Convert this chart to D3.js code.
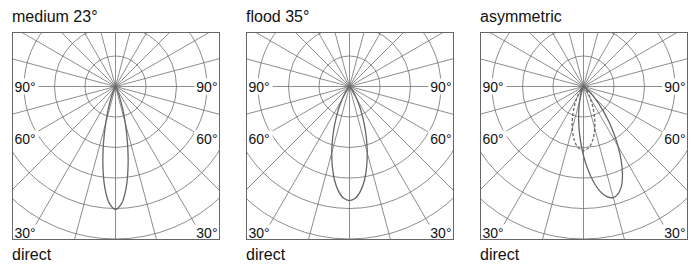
<!DOCTYPE html>
<html>
<head>
<meta charset="utf-8">
<script src="https://cdn.jsdelivr.net/npm/d3@7"></script>
<style>
  body { margin: 0; background: #fff; }
  text { font-family: "Liberation Sans", Arial, sans-serif; fill: #111; }
</style>
</head>
<body>
<div id="chart"></div>
<script>
// chart texts
var titles = ["medium 23°", "flood 35°", "asymmetric"];
var footers = ["direct", "direct", "direct"];
var sideLabels = ["90°", "60°", "30°"];

// polar grid: rings (relative intensity units) and spokes (degrees)
var ringValues = [1, 2, 3, 4, 5, 6];
var spokeAngles = [0, 15, 30, 45, 60, 75, 90, 105, 120, 135, 150, 165,
                   180, 195, 210, 225, 240, 255, 270, 285, 300, 315, 330, 345];

// light distribution curves, angle from nadir (deg, + to the right) and intensity
var mediumAngles = [0, 3, 6, 9, 12, 15, 18, 21, 24, 27, 30];
var mediumValues = [4.03, 3.84, 3.34, 2.64, 1.89, 1.24, 0.74, 0.40, 0.20, 0.09, 0.03];

var floodAngles = [0, 3, 6, 9, 12, 15, 18, 21, 24, 27, 30, 33, 36, 39, 42];
var floodValues = [3.74, 3.67, 3.45, 3.12, 2.70, 2.25, 1.80, 1.38, 1.01, 0.72, 0.49, 0.32, 0.20, 0.12, 0.07];

var asymAngles = [-27, -24, -21, -18, -15, -12, -9, -6, -3, 0, 3, 6, 9, 12, 15,
                  18, 21, 24, 27, 30, 33, 36, 39, 42, 45, 48, 51, 54, 57];
var asymValues = [0.07, 0.12, 0.20, 0.32, 0.49, 0.72, 1.02, 1.39, 1.81, 2.27, 2.72, 3.14, 3.48, 3.69, 3.77,
                  3.69, 3.48, 3.14, 2.72, 2.27, 1.81, 1.39, 1.02, 0.72, 0.49, 0.32, 0.20, 0.12, 0.07];

var asymDashAngles = [0, 5, 10, 15, 20, 25, 30, 35, 40, 45];
var asymDashValues = [2.10, 2.01, 1.77, 1.42, 1.05, 0.71, 0.44, 0.25, 0.13, 0.06];

// turn a half curve (symmetric about nadir) into a closed list of points
function mirrored(angles, values) {
    var pts = [];
    for (var i = angles.length - 1; i > 0; i--) pts.push([-angles[i], values[i]]);
    for (var j = 0; j < angles.length; j++) pts.push([angles[j], values[j]]);
    pts.push([angles[angles.length - 1] + 20, 0]);
    pts.push([-angles[angles.length - 1] - 20, 0]);
    return pts;
}
function asIs(angles, values) {
    var pts = angles.map(function (a, i) { return [a, values[i]]; });
    pts.push([angles[angles.length - 1] + 15, 0]);
    pts.push([angles[0] - 15, 0]);
    return pts;
}

var panels = [
    { curves: [{ pts: mirrored(mediumAngles, mediumValues), dash: null }] },
    { curves: [{ pts: mirrored(floodAngles, floodValues), dash: null }] },
    { curves: [{ pts: asIs(asymAngles, asymValues), dash: null },
               { pts: mirrored(asymDashAngles, asymDashValues), dash: "3,2" }] }
];

// layout
var W = 698, H = 264;
var box = 207, boxTop = 32.5;
var panelLeft = [12.5, 246.5, 480.5];
var cx = 103, cy = 54;

var r = d3.scaleLinear().domain([0, 1]).range([0, 30.5]);

var svg = d3.select("#chart").append("svg")
    .attr("width", W).attr("height", H);

// nadir angle (deg) -> d3 radial angle (0 = up, clockwise)
function rad(a) { return Math.PI - a * Math.PI / 180; }

panels.forEach(function (p, k) {
    var g = svg.append("g")
        .attr("transform", "translate(" + panelLeft[k] + "," + boxTop + ")");

    g.append("clipPath").attr("id", "clip" + k)
        .append("rect").attr("width", box).attr("height", box);

    var grid = g.append("g").attr("clip-path", "url(#clip" + k + ")")
        .append("g").attr("transform", "translate(" + cx + "," + cy + ")");

    grid.selectAll("circle.ring")
        .data(ringValues)
        .enter().append("circle")
        .attr("class", "ring")
        .attr("r", function (d) { return r(d); })
        .attr("fill", "none")
        .attr("stroke", "#707070")
        .attr("stroke-width", 0.8);

    grid.selectAll("line.spoke")
        .data(spokeAngles)
        .enter().append("line")
        .attr("class", "spoke")
        .attr("x2", function (d) { return r(8) * Math.sin(rad(d)); })
        .attr("y2", function (d) { return -r(8) * Math.cos(rad(d)); })
        .attr("stroke", "#707070")
        .attr("stroke-width", 0.8);

    var line = d3.lineRadial()
        .angle(function (d) { return rad(d[0]); })
        .radius(function (d) { return r(d[1]); })
        .curve(d3.curveCatmullRomClosed);

    p.curves.forEach(function (c) {
        grid.append("path")
            .attr("d", line(c.pts))
            .attr("fill", "none")
            .attr("stroke", "#666")
            .attr("stroke-width", 1.3)
            .attr("stroke-dasharray", c.dash);
    });

    // side labels with white backing
    var labelY = [cy, cy + 52, box - 7];
    sideLabels.forEach(function (t, i) {
        [0, 1].forEach(function (side) {
            var lx = side ? box - 2 : 2;
            var lab = g.append("g");
            var txt = lab.append("text")
                .attr("x", lx).attr("y", labelY[i])
                .attr("dy", "0.36em")
                .attr("text-anchor", side ? "end" : "start")
                .style("font-size", "14px")
                .text(t);
            var bb = txt.node().getBBox();
            lab.insert("rect", "text")
                .attr("x", bb.x - 2).attr("y", bb.y)
                .attr("width", bb.width + 5).attr("height", bb.height)
                .attr("fill", "#fff");
        });
    });

    g.append("rect")
        .attr("width", box).attr("height", box)
        .attr("fill", "none")
        .attr("stroke", "#666")
        .attr("stroke-width", 1);

    g.append("text")
        .attr("x", -0.5).attr("y", -11)
        .style("font-size", "16px")
        .text(titles[k]);

    g.append("text")
        .attr("x", -0.5).attr("y", box + 20)
        .style("font-size", "16px")
        .text(footers[k]);
});
</script>
</body>
</html>
